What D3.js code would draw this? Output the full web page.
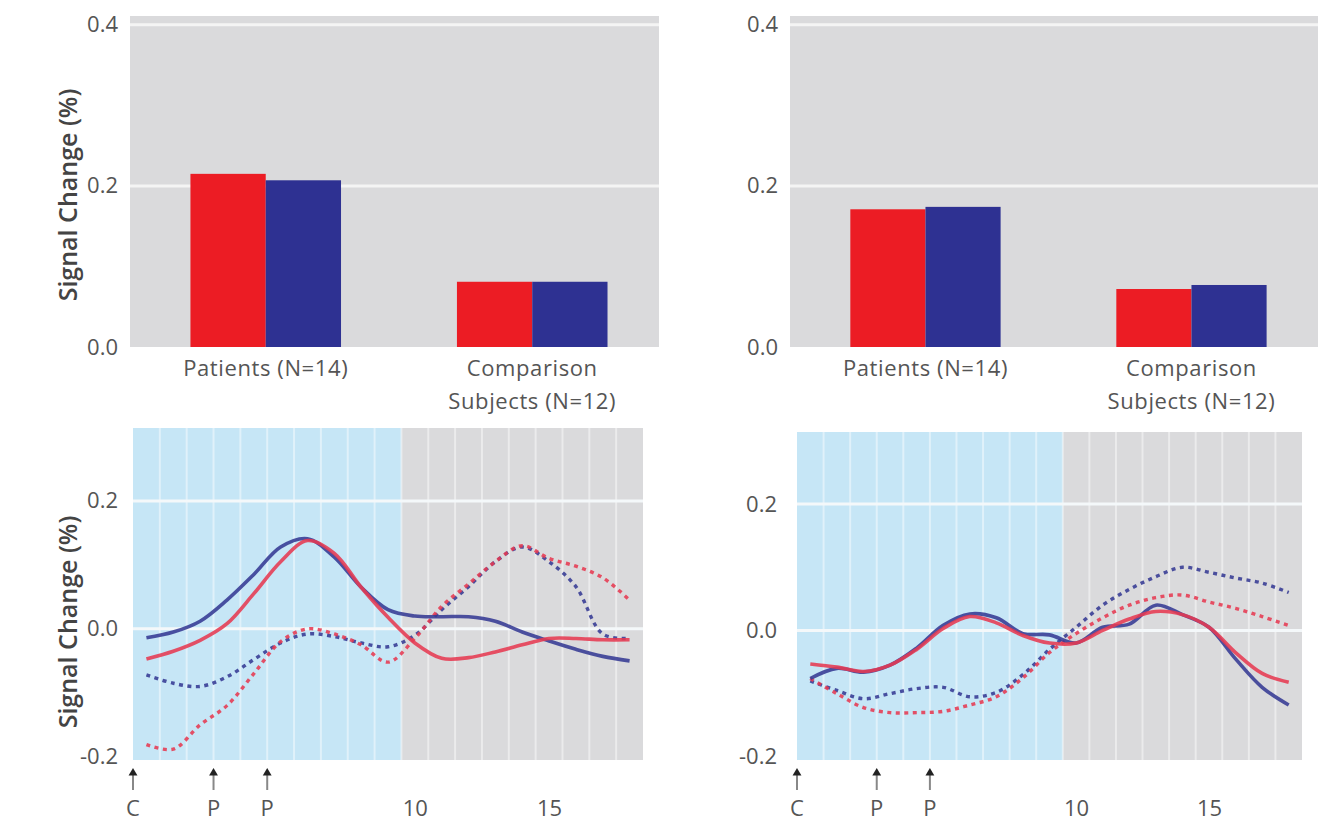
<!DOCTYPE html>
<html><head><meta charset="utf-8">
<script src="https://cdn.jsdelivr.net/npm/d3@7"></script>
<style>
body{margin:0;background:#fff;}
svg{display:block;font-family:"Open Sans",sans-serif;}
</style>
</head><body>
<svg id="chart" width="1343" height="822"></svg>
<script>
// ---------- DATA ----------
const groups = ["Patients", "Comparison"];
const groupLabelLines = [["Patients (N=14)"], ["Comparison", "Subjects (N=12)"]];
const leftBarsRed  = [0.215, 0.081];
const leftBarsBlue = [0.207, 0.081];
const rightBarsRed  = [0.171, 0.072];
const rightBarsBlue = [0.174, 0.077];
const barTicks = [0.0, 0.2, 0.4];

const scans = [0,1,2,3,4,5,6,7,8,9,10,11,12,13,14,15,16,17,18];
const leftBlueSolid  = [-0.014,-0.005,0.012,0.045,0.085,0.128,0.141,0.112,0.065,0.030,0.020,0.019,0.019,0.012,-0.005,-0.019,-0.032,-0.043,-0.050];
const leftRedSolid   = [-0.047,-0.035,-0.018,0.008,0.055,0.105,0.138,0.118,0.065,0.018,-0.022,-0.046,-0.045,-0.036,-0.025,-0.015,-0.015,-0.017,-0.017];
const leftBlueDashed = [-0.072,-0.085,-0.090,-0.075,-0.048,-0.022,-0.008,-0.012,-0.022,-0.028,-0.010,0.030,0.066,0.105,0.128,0.105,0.066,-0.008,-0.015];
const leftRedDashed  = [-0.181,-0.188,-0.150,-0.120,-0.070,-0.020,0.000,-0.008,-0.025,-0.052,-0.015,0.035,0.070,0.105,0.130,0.110,0.098,0.080,0.045];

const rightBlueSolid  = [-0.076,-0.060,-0.066,-0.055,-0.028,0.008,0.026,0.020,-0.005,-0.007,-0.020,0.005,0.010,0.040,0.025,0.005,-0.045,-0.090,-0.118];
const rightRedSolid   = [-0.053,-0.058,-0.065,-0.055,-0.030,0.003,0.022,0.012,-0.008,-0.020,-0.020,0.000,0.018,0.030,0.025,0.005,-0.035,-0.068,-0.082];
const rightBlueDashed = [-0.080,-0.095,-0.108,-0.100,-0.092,-0.090,-0.105,-0.098,-0.070,-0.030,0.005,0.040,0.065,0.085,0.100,0.092,0.083,0.075,0.060];
const rightRedDashed  = [-0.076,-0.100,-0.122,-0.130,-0.130,-0.128,-0.118,-0.105,-0.075,-0.035,-0.005,0.020,0.040,0.052,0.056,0.045,0.035,0.022,0.008];

const lineTicks = [-0.2, 0.0, 0.2];
const xTicks = [10, 15];
const eventTimes = [-0.5, 2.5, 4.5];
const eventLabels = ["C", "P", "P"];
const taskEnd = 9.5;
const yTitle = "Signal Change (%)";

// ---------- STYLE ----------
const RED = "#ec1c24", BLUE = "#2e3192";
const LRED = "#e63a52", LBLUE = "#363a94";
const GRAY_BG = "#dadadc", BLUE_BG = "#c6e6f6";
const TXT = "#555";
const FS = "22px";
const fmt = d => d.toFixed(1);

const svg = d3.select("#chart");

function addTitle(g, cy) {
  g.append("text").attr("transform", `translate(77,${cy}) rotate(-90)`)
    .attr("text-anchor", "middle").attr("fill", "#444").style("font-size", "25px")
    .style("font-weight", 600).text(yTitle);
}

function barPanel(box, redVals, blueVals, showTitle) {
  const g = svg.append("g");
  const y = d3.scaleLinear().domain([0, 0.411]).range([box.bottom, box.top]);
  const x0 = d3.scaleBand().domain(groups).range([box.left, box.right])
    .paddingInner(0.435).paddingOuter(0.21).align(0.54);
  const x1 = d3.scaleBand().domain(["red", "blue"]).range([0, x0.bandwidth()]);
  g.append("rect").attr("x", box.left).attr("y", box.top)
    .attr("width", box.right - box.left).attr("height", box.bottom - box.top)
    .attr("fill", GRAY_BG);
  g.selectAll(".grid").data(barTicks.filter(d => d > 0)).enter().append("line")
    .attr("x1", box.left).attr("x2", box.right)
    .attr("y1", d => y(d)).attr("y2", d => y(d))
    .attr("stroke", "#f4f4f4").attr("stroke-width", 3);
  const rows = groups.map((gname, i) => ({g: gname, vals: [{k: "red", v: redVals[i]}, {k: "blue", v: blueVals[i]}]}));
  const gg = g.selectAll(".grp").data(rows).enter().append("g")
    .attr("transform", d => `translate(${x0(d.g)},0)`);
  gg.selectAll("rect").data(d => d.vals).enter().append("rect")
    .attr("x", d => x1(d.k)).attr("width", x1.bandwidth())
    .attr("y", d => y(d.v)).attr("height", d => y(0) - y(d.v))
    .attr("fill", d => d.k === "red" ? RED : BLUE);
  const ax = d3.axisLeft(y).tickValues(barTicks).tickFormat(fmt).tickSize(0).tickPadding(12);
  const a = g.append("g").attr("transform", `translate(${box.left},0)`).call(ax);
  a.select(".domain").remove();
  a.selectAll("text").attr("fill", TXT).style("font-size", FS).style("font-family", "Open Sans");
  groups.forEach((gname, i) => {
    const cx = x0(gname) + x0.bandwidth() / 2;
    groupLabelLines[i].forEach((ln, j) => {
      g.append("text").attr("x", cx).attr("y", 376 + j * 33).attr("text-anchor", "middle")
        .attr("fill", TXT).style("font-size", FS).style("letter-spacing", "0.6px").text(ln);
    });
  });
  if (showTitle) addTitle(g, box.titleY);
}

function linePanel(box, series, showTitle) {
  const g = svg.append("g");
  const x = d3.scaleLinear().domain([-0.5, 18.5]).range([box.left, box.right]);
  const y = d3.scaleLinear().domain([-0.205, 0.314]).range([box.bottom, box.top]);
  g.append("rect").attr("x", x(-0.5)).attr("y", box.top)
    .attr("width", x(18.5) - x(-0.5)).attr("height", box.bottom - box.top).attr("fill", GRAY_BG);
  g.append("rect").attr("x", x(-0.5)).attr("y", box.top)
    .attr("width", x(taskEnd) - x(-0.5)).attr("height", box.bottom - box.top).attr("fill", BLUE_BG);
  const stripes = d3.range(0.5, 18.5, 1);
  g.selectAll(".stripe").data(stripes).enter().append("line")
    .attr("x1", d => x(d)).attr("x2", d => x(d)).attr("y1", box.top).attr("y2", box.bottom)
    .attr("stroke", "#ffffff").attr("stroke-opacity", 0.45).attr("stroke-width", 2);
  g.selectAll(".grid").data(lineTicks.filter(d => d > -0.2)).enter().append("line")
    .attr("x1", box.left).attr("x2", box.right).attr("y1", d => y(d)).attr("y2", d => y(d))
    .attr("stroke", "#f4f8fa").attr("stroke-width", 3);
  const line = d3.line().x((d, i) => x(scans[i])).y(d => y(d)).curve(d3.curveCatmullRom.alpha(0.5));
  series.forEach(s => {
    g.append("path").datum(s.vals).attr("d", line).attr("fill", "none")
      .attr("stroke", s.color).attr("stroke-width", s.dash ? 3.4 : 3.6)
      .attr("stroke-opacity", 0.88)
      .attr("stroke-dasharray", s.dash ? "4,4.5" : null);
  });
  const ay = d3.axisLeft(y).tickValues(lineTicks).tickFormat(fmt).tickSize(0).tickPadding(box.pad);
  const a = g.append("g").attr("transform", `translate(${box.left},0)`).call(ay);
  a.select(".domain").remove();
  a.selectAll("text").attr("fill", TXT).style("font-size", FS).style("font-family", "Open Sans");
  const ax = d3.axisBottom(x).tickValues(xTicks).tickFormat(d3.format("d")).tickSize(0).tickPadding(0);
  const b = g.append("g").attr("transform", `translate(0,${box.bottom})`).call(ax);
  b.select(".domain").remove();
  b.selectAll("text").attr("fill", TXT).attr("dy", 0).attr("y", 56)
    .style("font-size", FS).style("font-family", "Open Sans");
  eventTimes.forEach((t, i) => {
    const cx = x(t);
    g.append("line").attr("x1", cx).attr("x2", cx).attr("y1", 772).attr("y2", 790)
      .attr("stroke", "#888").attr("stroke-width", 2);
    g.append("path").attr("d", d3.symbol(d3.symbolTriangle, 34)())
      .attr("transform", `translate(${cx},773)`).attr("fill", "#222");
    g.append("text").attr("x", cx).attr("y", box.bottom + 56).attr("text-anchor", "middle")
      .attr("fill", TXT).style("font-size", FS).text(eventLabels[i]);
  });
  if (showTitle) addTitle(g, box.titleY);
}

barPanel({left: 130, right: 659, top: 16, bottom: 347, titleY: 195}, leftBarsRed, leftBarsBlue, true);
barPanel({left: 790, right: 1318, top: 16, bottom: 347}, rightBarsRed, rightBarsBlue, false);

linePanel({left: 133, right: 643, top: 428, bottom: 760, pad: 15, titleY: 622}, [
  {vals: leftBlueDashed, color: LBLUE, dash: true},
  {vals: leftRedDashed, color: LRED, dash: true},
  {vals: leftBlueSolid, color: LBLUE, dash: false},
  {vals: leftRedSolid, color: LRED, dash: false}
], true);
linePanel({left: 797, right: 1302, top: 432, bottom: 760, pad: 20}, [
  {vals: rightBlueDashed, color: LBLUE, dash: true},
  {vals: rightRedDashed, color: LRED, dash: true},
  {vals: rightBlueSolid, color: LBLUE, dash: false},
  {vals: rightRedSolid, color: LRED, dash: false}
], false);
</script>
</body></html>
